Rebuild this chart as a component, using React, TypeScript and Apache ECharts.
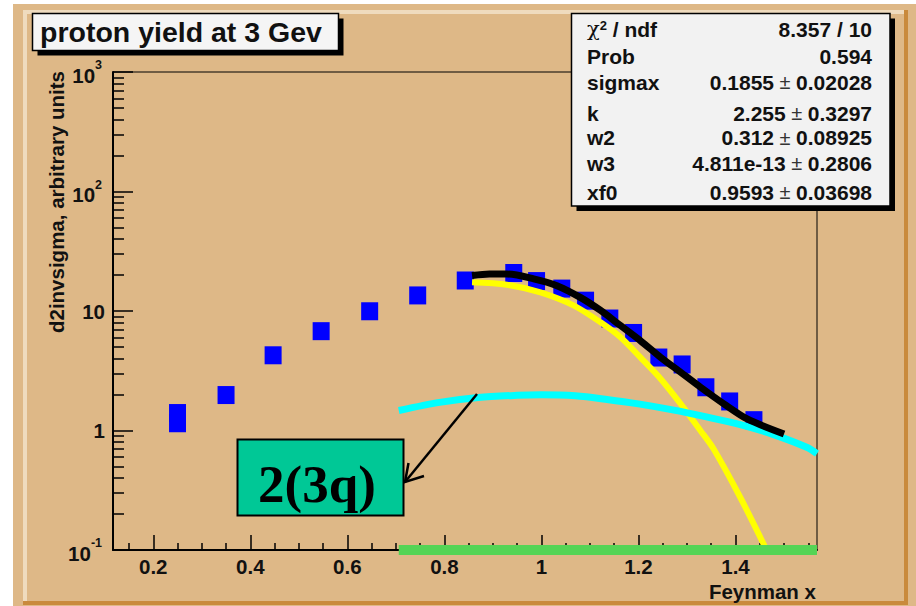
import React, { useEffect, useRef } from "react";
import * as echarts from "echarts";

// Measured proton yield vs Feynman x
const feynmanX = [0.25, 0.25, 0.35, 0.447, 0.546, 0.646, 0.745, 0.843, 0.943, 0.99, 1.042, 1.091, 1.141, 1.19, 1.242, 1.29, 1.339, 1.388, 1.438];
const yieldValues = [1.4, 1.15, 1.98, 4.26, 6.78, 9.95, 13.5, 18.0, 20.8, 17.8, 15.4, 12.2, 8.65, 6.55, 4.08, 3.57, 2.3, 1.75, 1.22];

// Total fit curve
const fitX = [0.857, 0.893, 0.929, 0.984, 1.032, 1.08, 1.122, 1.163, 1.204, 1.246, 1.287, 1.328, 1.376, 1.424, 1.5];
const fitY = [19.8, 20.4, 20.4, 18.6, 16.3, 13.0, 10.1, 7.55, 5.65, 4.09, 3.07, 2.3, 1.67, 1.25, 0.935];

// Main (yellow) component
const mainX = [0.857, 0.929, 0.998, 1.067, 1.122, 1.163, 1.204, 1.246, 1.287, 1.328, 1.355, 1.41, 1.464];
const mainY = [17.4, 16.6, 14.3, 11.1, 8.04, 6.03, 4.09, 2.7, 1.67, 0.996, 0.7, 0.275, 0.1];

// 2(3q) (cyan) component
const sixqX = [0.706, 0.79, 0.87, 0.95, 1.0, 1.07, 1.135, 1.2, 1.273, 1.34, 1.41, 1.48, 1.548, 1.568];
const sixqY = [1.47, 1.72, 1.89, 1.97, 1.99, 1.95, 1.82, 1.67, 1.48, 1.3, 1.12, 0.92, 0.72, 0.64];

// Third (green) component, pinned at the axis floor
const thirdX = [0.706, 1.568];
const thirdY = [0.1, 0.1];

const xMajorTicks = [0.2, 0.4, 0.6, 0.8, 1, 1.2, 1.4];
const xMinorTicks = [0.15, 0.25, 0.3, 0.35, 0.45, 0.5, 0.55, 0.65, 0.7, 0.75, 0.85, 0.9, 0.95, 1.05, 1.1, 1.15, 1.25, 1.3, 1.35, 1.45, 1.5, 1.55];
const yMinorTicks = [
  0.2, 0.3, 0.4, 0.5, 0.6, 0.7, 0.8, 0.9,
  2, 3, 4, 5, 6, 7, 8, 9,
  20, 30, 40, 50, 60, 70, 80, 90,
  200, 300, 400, 500, 600, 700, 800, 900,
];

const statLabels = ["{chi|χ}{sup|2} / ndf", "Prob", "sigmax", "k", "w2", "w3", "xf0"];
const statValues = ["8.357 / 10", "0.594", "0.1855 ± 0.02028", "2.255 ± 0.3297", "0.312 ± 0.08925", "4.811e-13 ± 0.2806", "0.9593 ± 0.03698"];
const statRowY = [29, 56, 82, 113, 137.5, 163, 192];

const SANS = '"Liberation Sans", Arial, Helvetica, sans-serif';
const INK = "#111";

const pairs = (xs: number[], ys: number[]) => xs.map((x, i) => [x, ys[i]]);

function buildOption() {
  const statTexts: any[] = [];
  statLabels.forEach((label, i) => {
    statTexts.push({
      type: "text",
      x: 587,
      y: statRowY[i],
      z: 12,
      style: {
        text: label,
        font: `bold 21px ${SANS}`,
        fill: INK,
        align: "left",
        verticalAlign: "middle",
        rich: {
          chi: { fontSize: 21, fontWeight: "normal", fontFamily: '"DejaVu Serif", serif', fill: INK },
          sup: { fontSize: 13, fontWeight: "bold", fontFamily: SANS, verticalAlign: "top", fill: INK },
        },
      },
    });
    statTexts.push({
      type: "text",
      x: 872,
      y: statRowY[i],
      z: 12,
      style: {
        text: statValues[i].replace(" ± ", "{pm| ± }"),
        font: `bold 21px ${SANS}`,
        fill: INK,
        align: "right",
        verticalAlign: "middle",
        rich: {
          pm: { fontSize: 20, fontWeight: "normal", fontFamily: SANS, fill: "#333" },
        },
      },
    });
  });

  const axisLabelCommon = {
    fontSize: 20.5,
    fontWeight: "bold",
    fontFamily: SANS,
    color: INK,
  };

  return {
    animation: false,
    backgroundColor: "#DEB887",
    grid: {
      left: 113,
      right: 99,
      top: 72,
      bottom: 56,
      show: true,
      borderColor: "#000",
      borderWidth: 1,
      backgroundColor: "transparent",
    },
    xAxis: [
      {
        type: "value",
        min: 0.117,
        max: 1.568,
        position: "bottom",
        axisLine: { onZero: false, lineStyle: { color: "#000", width: 2 } },
        axisTick: { inside: true, length: 15, customValues: xMajorTicks, lineStyle: { color: "#000", width: 1.5 } },
        axisLabel: {
          ...axisLabelCommon,
          margin: 6,
          customValues: xMajorTicks,
          formatter: (v: number) => String(v),
        },
        splitLine: { show: false },
      },
      {
        type: "value",
        min: 0.117,
        max: 1.568,
        position: "bottom",
        axisLine: { show: false },
        axisTick: { inside: true, length: 7, customValues: xMinorTicks, lineStyle: { color: "#000", width: 1.5 } },
        axisLabel: { show: false },
        splitLine: { show: false },
      },
    ],
    yAxis: [
      {
        type: "log",
        logBase: 10,
        min: 0.1,
        max: 1000,
        position: "left",
        axisLine: { show: true, lineStyle: { color: "#000", width: 2 } },
        axisTick: { inside: true, length: 20, lineStyle: { color: "#000", width: 1.5 } },
        axisLabel: {
          ...axisLabelCommon,
          margin: 8,
          formatter: (v: number) => {
            const e = Math.round(Math.log10(v));
            if (e === 0) return "1";
            if (e === 1) return "10";
            return `{b|10}{s|${e}}`;
          },
          rich: {
            b: { ...axisLabelCommon, padding: [6, 0, 0, 0] },
            s: { fontSize: 12.5, fontWeight: "bold", fontFamily: SANS, color: INK, verticalAlign: "top", padding: [0, 3, 0, 0] },
          },
        },
        splitLine: { show: false },
      },
      {
        type: "log",
        logBase: 10,
        min: 0.1,
        max: 1000,
        position: "left",
        axisLine: { show: false },
        axisTick: { inside: true, length: 11, customValues: yMinorTicks, lineStyle: { color: "#000", width: 1.5 } },
        axisLabel: { show: false },
        splitLine: { show: false },
      },
    ],
    series: [
      {
        name: "data",
        type: "scatter",
        xAxisIndex: 0,
        yAxisIndex: 0,
        data: pairs(feynmanX, yieldValues),
        symbol: "rect",
        symbolSize: [17, 18],
        itemStyle: { color: "#0000FF", opacity: 1 },
        silent: true,
        z: 2,
      },
      {
        name: "main",
        type: "line",
        data: pairs(mainX, mainY),
        smooth: 0.3,
        showSymbol: false,
        lineStyle: { color: "#FFFF00", width: 6 },
        silent: true,
        z: 3,
      },
      {
        name: "2(3q)",
        type: "line",
        data: pairs(sixqX, sixqY),
        smooth: 0.3,
        showSymbol: false,
        lineStyle: { color: "#00FFFF", width: 7 },
        silent: true,
        z: 4,
      },
      {
        name: "fit",
        type: "line",
        data: pairs(fitX, fitY),
        smooth: 0.3,
        showSymbol: false,
        lineStyle: { color: "#000000", width: 7 },
        silent: true,
        z: 5,
      },
      {
        name: "third",
        type: "line",
        data: pairs(thirdX, thirdY),
        showSymbol: false,
        clip: false,
        lineStyle: { color: "#55D455", width: 10, cap: "butt" },
        silent: true,
        z: 6,
      },
    ],
    graphic: [
      // page margin and canvas bevel
      { type: "rect", shape: { x: 0, y: 0, width: 13, height: 606 }, style: { fill: "#FFFFFF" }, silent: true, z: 1 },
      { type: "rect", shape: { x: 0, y: 0, width: 916, height: 4 }, style: { fill: "#FFFFFF" }, silent: true, z: 1 },
      { type: "rect", shape: { x: 23, y: 10, width: 883, height: 4 }, style: { fill: "#EFDBBE" }, silent: true, z: 1 },
      { type: "rect", shape: { x: 23, y: 10, width: 4, height: 593 }, style: { fill: "#EFDBBE" }, silent: true, z: 1 },
      { type: "rect", shape: { x: 23, y: 601, width: 885, height: 4 }, style: { fill: "#C98A3C" }, silent: true, z: 1 },
      { type: "rect", shape: { x: 904, y: 10, width: 4, height: 595 }, style: { fill: "#C98A3C" }, silent: true, z: 1 },

      // title box
      { type: "rect", shape: { x: 37.5, y: 18.5, width: 306, height: 37 }, style: { fill: "#000" }, silent: true, z: 10 },
      { type: "rect", shape: { x: 32.5, y: 13.5, width: 306, height: 37 }, style: { fill: "#F5F5F5", stroke: "#000", lineWidth: 1.5 }, silent: true, z: 11 },
      {
        type: "text",
        x: 40,
        y: 32,
        z: 12,
        style: { text: "proton yield at 3 Gev", font: `bold 28.5px ${SANS}`, fill: INK, align: "left", verticalAlign: "middle" },
      },

      // fit statistics box
      { type: "rect", shape: { x: 576.5, y: 18.5, width: 318.5, height: 192.5 }, style: { fill: "#000" }, silent: true, z: 10 },
      { type: "rect", shape: { x: 571.5, y: 13.5, width: 318.5, height: 192.5 }, style: { fill: "#F2F2F2", stroke: "#000", lineWidth: 1.5 }, silent: true, z: 11 },
      ...statTexts,

      // axis titles
      {
        type: "text",
        x: 56,
        y: 71,
        rotation: Math.PI / 2,
        z: 12,
        style: { text: "d2invsigma, arbitrary units", font: `bold 20.5px ${SANS}`, fill: INK, align: "right", verticalAlign: "middle" },
      },
      {
        type: "text",
        x: 816,
        y: 591,
        z: 12,
        style: { text: "Feynman x", font: `bold 20.5px ${SANS}`, fill: INK, align: "right", verticalAlign: "middle" },
      },

      // 2(3q) annotation
      { type: "rect", shape: { x: 237.5, y: 439.5, width: 166, height: 76 }, style: { fill: "#00C896", stroke: "#000", lineWidth: 2 }, silent: true, z: 11 },
      {
        type: "text",
        x: 317,
        y: 484,
        z: 12,
        style: { text: "2(3q)", font: 'bold 53px "Liberation Serif", "Times New Roman", serif', fill: "#000", align: "center", verticalAlign: "middle" },
      },
      { type: "polyline", shape: { points: [[477, 394], [405, 482]] }, style: { stroke: "#000", lineWidth: 2.5, fill: null }, silent: true, z: 12 },
      { type: "polyline", shape: { points: [[408.5, 463], [405, 482], [424, 476]] }, style: { stroke: "#000", lineWidth: 2.5, fill: null }, silent: true, z: 12 },
    ],
  };
}

export default function App() {
  const ref = useRef<HTMLDivElement>(null);
  useEffect(() => {
    if (!ref.current) return;
    const chart = echarts.init(ref.current, null, { renderer: "svg" });
    chart.setOption(buildOption() as any);
    return () => chart.dispose();
  }, []);
  return <div ref={ref} style={{ position: "absolute", left: 0, top: 0, width: 916, height: 606 }} />;
}
